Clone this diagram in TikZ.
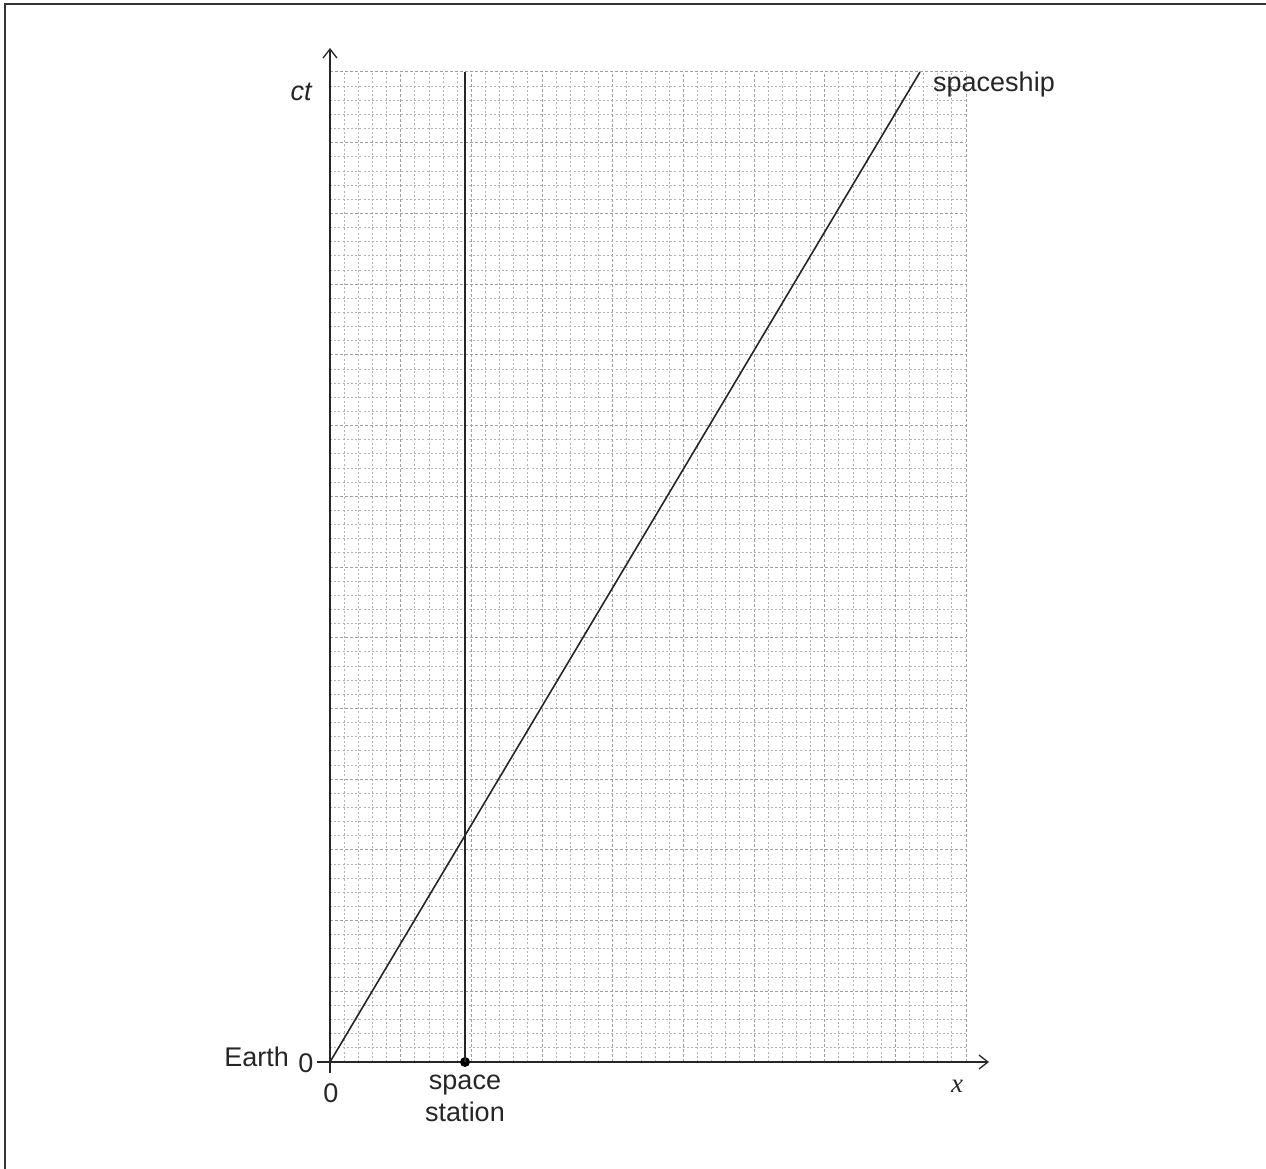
\documentclass[tikz,border=0pt]{standalone}
\usepackage{fontspec}
\setmainfont{Liberation Sans}
\newfontfamily\serifit{Liberation Serif}
\usetikzlibrary{arrows.meta}
\begin{document}
\begin{tikzpicture}[x=1pt,y=-1pt,
  lbl/.style={font=\fontsize{27}{31}\selectfont, inner sep=0pt, anchor=base, text=black!85},
  minorgrid/.style={gray!60, line width=0.8pt, dash pattern=on 2pt off 2.2pt},
  majorgrid/.style={gray!75, line width=1pt, dash pattern=on 3pt off 2pt},
  axis/.style={black!85, line width=1.6pt, -{Straight Barb[length=9pt,width=14pt,line width=1.3pt]}},
  wline/.style={black!85, line width=1.6pt}]
\useasboundingbox (0,0) rectangle (1266,1169);
% frame
\draw[line width=2pt, black!80] (5,1169) -- (5,4) -- (1266,4);
% grid
\foreach \i in {0,...,45}{
  \pgfmathsetmacro{\xx}{330+\i*14.1333}
  \pgfmathtruncatemacro{\m}{mod(\i,5)}
  \ifnum\m=0
    \draw[majorgrid] (\xx,1062) -- (\xx,72);
  \else
    \draw[minorgrid] (\xx,1062) -- (\xx,72);
  \fi
}
\foreach \j in {0,...,70}{
  \pgfmathsetmacro{\yy}{1062-\j*14.1429}
  \pgfmathtruncatemacro{\m}{mod(\j,5)}
  \ifnum\m=0
    \draw[majorgrid] (330,\yy) -- (966,\yy);
  \else
    \draw[minorgrid] (330,\yy) -- (966,\yy);
  \fi
}
% coordinates
\coordinate (O) at (330,1062);
\coordinate (ybot) at (330,1073);
\coordinate (ytop) at (330,48);
\coordinate (xleft) at (317,1062);
\coordinate (xright) at (989,1062);
\coordinate (sstop) at (465,72);
\coordinate (shipend) at (920,72);
% axes
\draw[axis] (ybot) -- (ytop);
\draw[axis] (xleft) -- (xright);
% world lines
\node[circle, fill=black, inner sep=0pt, minimum size=10pt] (ss) at (465,1062) {};
\draw[wline] (ss.center) -- (sstop);
\draw[wline] (O) -- (shipend);
% labels
\node[lbl, anchor=base east] (earth) at (289,1066) {Earth};
\node[lbl] (zeroy) at (306,1072) {0};
\node[lbl] (zerox) at (331,1102) {0};
\node[lbl] (space) at (465,1089) {space};
\node[lbl] (station) at (465,1121) {station};
\node[lbl, anchor=base west] (ship) at (933,92) {spaceship};
\node[lbl] (ct) at (301,101) {\itshape ct};
\node[lbl] (x) at (957,1092) {\serifit\itshape x};
\end{tikzpicture}
\end{document}
